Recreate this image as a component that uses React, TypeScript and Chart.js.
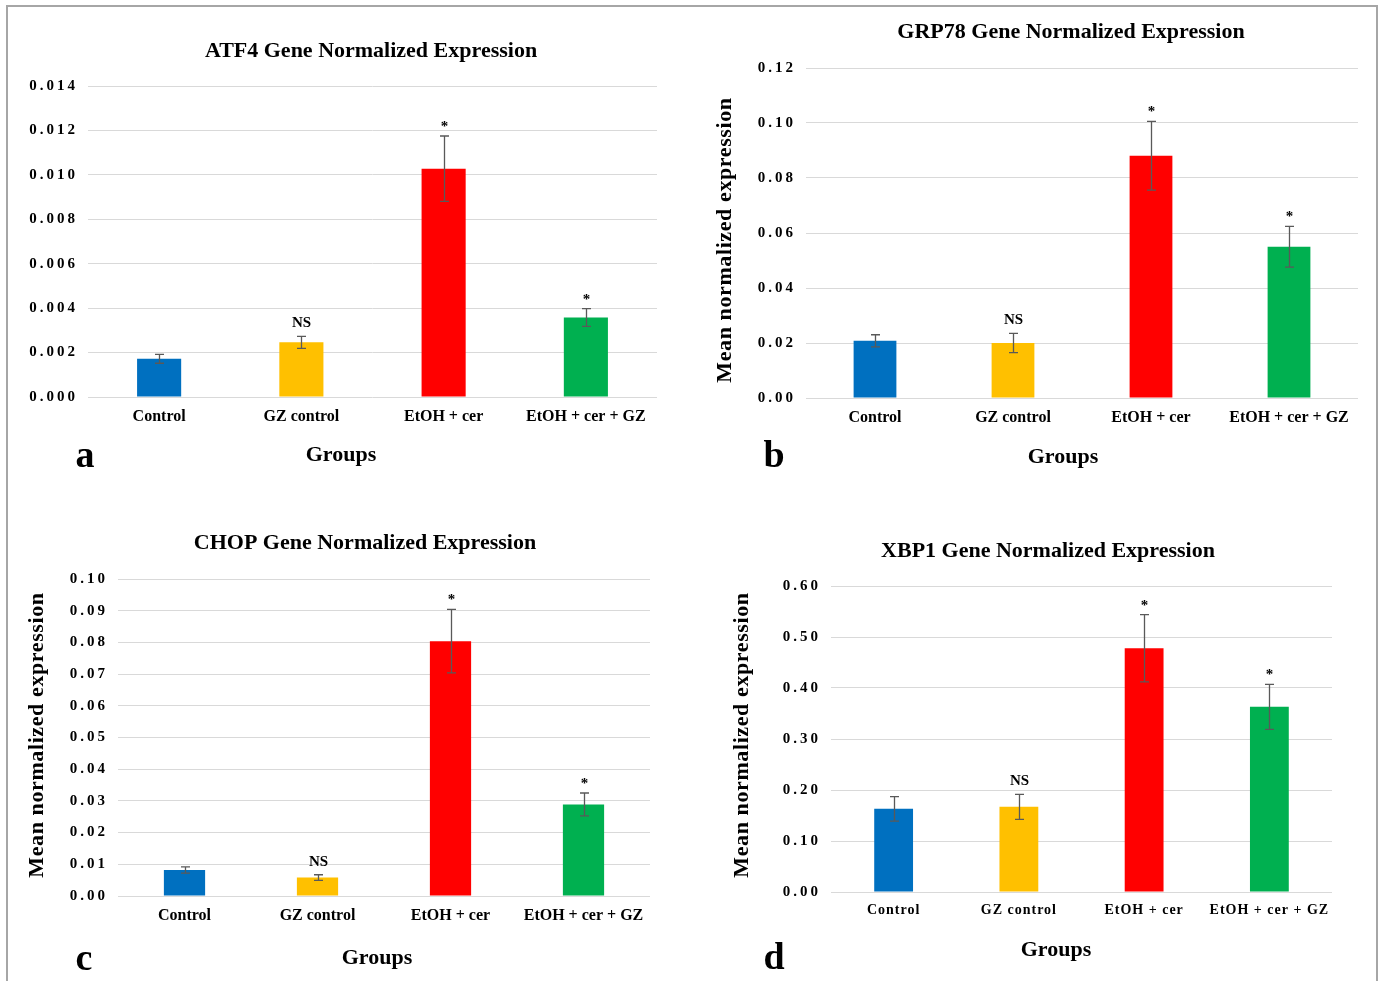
import { useEffect, useRef } from "react";
import { Chart, registerables } from "chart.js";

Chart.register(...registerables);

// ---------- data ----------
const categories = ["Control", "GZ control", "EtOH + cer", "EtOH + cer + GZ"];
const barColors = ["#0070C0", "#FFC000", "#FF0000", "#00B050"];
const significance = ["", "NS", "*", "*"];

const atf4Values = [0.00172, 0.00246, 0.01028, 0.00358];
const atf4Errors = [0.0002, 0.00027, 0.00147, 0.0004];
const atf4Ticks = ["0.000", "0.002", "0.004", "0.006", "0.008", "0.010", "0.012", "0.014"];

const grp78Values = [0.0208, 0.02, 0.0881, 0.055];
const grp78Errors = [0.0022, 0.0035, 0.0125, 0.0074];
const grp78Ticks = ["0.00", "0.02", "0.04", "0.06", "0.08", "0.10", "0.12"];

const chopValues = [0.0082, 0.0058, 0.0804, 0.0289];
const chopErrors = [0.001, 0.0009, 0.01, 0.0036];
const chopTicks = ["0.00", "0.01", "0.02", "0.03", "0.04", "0.05", "0.06", "0.07", "0.08", "0.09", "0.10"];

const xbp1Values = [0.163, 0.167, 0.478, 0.363];
const xbp1Errors = [0.024, 0.0245, 0.066, 0.044];
const xbp1Ticks = ["0.00", "0.10", "0.20", "0.30", "0.40", "0.50", "0.60"];

const yAxisTitle = "Mean normalized expression";
const xAxisTitle = "Groups";

// ---------- layout ----------
type Box = { x: number; y: number; w: number; h: number };
type Pt = { x: number; y: number };
type PanelCfg = {
  title: string;
  letter: string;
  values: number[];
  errors: number[];
  ticks: string[];
  canvas: Box;
  plot: { l: number; r: number; t: number; b: number };
  titlePos: Pt;
  groupsPos: Pt;
  letterPos: Pt;
  yTitlePos: Pt | null;
  catFont: number;
  catSpacing: number;
};

const panels: PanelCfg[] = [
  {
    title: "ATF4 Gene Normalized Expression",
    letter: "a",
    values: atf4Values,
    errors: atf4Errors,
    ticks: atf4Ticks,
    canvas: { x: 9, y: 8, w: 678, h: 482 },
    plot: { l: 88, r: 657, t: 86, b: 397 },
    titlePos: { x: 371, y: 51 },
    groupsPos: { x: 341, y: 455 },
    letterPos: { x: 85, y: 457 },
    yTitlePos: null,
    catFont: 16,
    catSpacing: 0,
  },
  {
    title: "GRP78 Gene Normalized Expression",
    letter: "b",
    values: grp78Values,
    errors: grp78Errors,
    ticks: grp78Ticks,
    canvas: { x: 692, y: 8, w: 684, h: 482 },
    plot: { l: 806, r: 1358, t: 68, b: 398 },
    titlePos: { x: 1071, y: 32 },
    groupsPos: { x: 1063, y: 457 },
    letterPos: { x: 774, y: 457 },
    yTitlePos: { x: 725, y: 240 },
    catFont: 16,
    catSpacing: 0,
  },
  {
    title: "CHOP Gene Normalized Expression",
    letter: "c",
    values: chopValues,
    errors: chopErrors,
    ticks: chopTicks,
    canvas: { x: 9, y: 492, w: 678, h: 488 },
    plot: { l: 118, r: 650, t: 579, b: 896 },
    titlePos: { x: 365, y: 543 },
    groupsPos: { x: 377, y: 958 },
    letterPos: { x: 84, y: 960 },
    yTitlePos: { x: 37, y: 735 },
    catFont: 16,
    catSpacing: 0,
  },
  {
    title: "XBP1 Gene Normalized Expression",
    letter: "d",
    values: xbp1Values,
    errors: xbp1Errors,
    ticks: xbp1Ticks,
    canvas: { x: 692, y: 492, w: 684, h: 488 },
    plot: { l: 831, r: 1332, t: 586, b: 892 },
    titlePos: { x: 1048, y: 551 },
    groupsPos: { x: 1056, y: 950 },
    letterPos: { x: 774, y: 959 },
    yTitlePos: { x: 742, y: 735 },
    catFont: 14,
    catSpacing: 1,
  },
];

const FONT = "'Liberation Serif', 'Times New Roman', serif";

function makePlugin(cfg: PanelCfg) {
  return {
    id: "panelExtras",
    beforeDraw(chart: any) {
      const patch = (scale: any, spacing: number) => {
        if (!scale || scale.__lsPatched) return;
        const orig = scale.drawLabels.bind(scale);
        scale.drawLabels = (area: any) => {
          const c = chart.ctx as any;
          c.save();
          c.letterSpacing = spacing + "px";
          orig(area);
          c.restore();
        };
        scale.__lsPatched = true;
      };
      patch(chart.scales.y, 3);
      patch(chart.scales.x, cfg.catSpacing);
    },
    afterDatasetsDraw(chart: any) {
      const ctx = chart.ctx as CanvasRenderingContext2D;
      const meta = chart.getDatasetMeta(0);
      const ys = chart.scales.y;
      ctx.save();
      cfg.values.forEach((v, i) => {
        const bar = meta.data[i];
        const x = Math.round(bar.x) + 0.5;
        const e = cfg.errors[i];
        const top = ys.getPixelForValue(v + e);
        const bot = ys.getPixelForValue(v - e);
        ctx.strokeStyle = "#595959";
        ctx.lineWidth = 1.3;
        ctx.beginPath();
        ctx.moveTo(x, top);
        ctx.lineTo(x, bot);
        ctx.moveTo(x - 4.5, top);
        ctx.lineTo(x + 4.5, top);
        ctx.moveTo(x - 4.5, bot);
        ctx.lineTo(x + 4.5, bot);
        ctx.stroke();
        const mark = significance[i];
        if (mark) {
          ctx.fillStyle = "#000";
          ctx.font = `bold 15px ${FONT}`;
          ctx.textAlign = "center";
          ctx.textBaseline = "alphabetic";
          ctx.fillText(mark, x, top - (mark === "*" ? 5 : 9));
        }
      });
      ctx.restore();
    },
    afterDraw(chart: any) {
      const ctx = chart.ctx as CanvasRenderingContext2D;
      const ox = cfg.canvas.x;
      const oy = cfg.canvas.y;
      ctx.save();
      ctx.fillStyle = "#000";
      ctx.textAlign = "center";
      ctx.textBaseline = "middle";
      ctx.font = `bold 22px ${FONT}`;
      ctx.fillText(cfg.title, cfg.titlePos.x - ox, cfg.titlePos.y - oy);
      ctx.fillText(xAxisTitle, cfg.groupsPos.x - ox, cfg.groupsPos.y - oy);
      ctx.font = `bold 38px ${FONT}`;
      ctx.fillText(cfg.letter, cfg.letterPos.x - ox, cfg.letterPos.y - oy);
      if (cfg.yTitlePos) {
        ctx.save();
        ctx.translate(cfg.yTitlePos.x - ox, cfg.yTitlePos.y - oy);
        ctx.rotate(-Math.PI / 2);
        ctx.font = `bold 22px ${FONT}`;
        (ctx as any).letterSpacing = "0.6px";
        ctx.fillText(yAxisTitle, 0, 0);
        ctx.restore();
      }
      ctx.restore();
    },
  };
}

function Panel({ cfg }: { cfg: PanelCfg }) {
  const ref = useRef<HTMLCanvasElement>(null);
  useEffect(() => {
    const canvas = ref.current;
    if (!canvas) return;
    const cv = cfg.canvas;
    const plot = cfg.plot;
    const yW = plot.l - cv.x;
    const xH = 40;
    const padTop = plot.t - cv.y;
    const padRight = cv.x + cv.w - plot.r;
    const padBottom = cv.y + cv.h - plot.b - xH;
    const tickValues = cfg.ticks.map((t) => parseFloat(t));
    const zeroPad = (s: any) => {
      s.paddingLeft = 0;
      s.paddingRight = 0;
      s.paddingTop = 0;
      s.paddingBottom = 0;
    };
    const chart = new Chart(canvas, {
      type: "bar",
      data: {
        labels: categories,
        datasets: [
          {
            data: cfg.values,
            backgroundColor: barColors,
            borderWidth: 0,
            barPercentage: 0.31,
            categoryPercentage: 1,
          },
        ],
      },
      options: {
        responsive: false,
        animation: false,
        devicePixelRatio: 1,
        layout: { padding: { left: 0, top: padTop, right: padRight, bottom: padBottom } },
        plugins: {
          legend: { display: false },
          tooltip: { enabled: false },
          title: { display: false },
        },
        scales: {
          x: {
            grid: { display: false, drawTicks: false },
            border: { display: false },
            ticks: {
              padding: 10,
              color: "#000",
              maxRotation: 0,
              autoSkip: false,
              font: { family: FONT, size: cfg.catFont, weight: "bold" },
            },
            afterFit: (s: any) => {
              s.height = xH;
              zeroPad(s);
            },
          },
          y: {
            min: 0,
            max: tickValues[tickValues.length - 1],
            grid: { color: "#d9d9d9", lineWidth: 1, drawTicks: false },
            border: { display: false },
            ticks: {
              padding: 10,
              color: "#000",
              font: { family: FONT, size: 15, weight: "bold" },
              callback: (_v: any, i: number) => cfg.ticks[i],
            },
            afterBuildTicks: (s: any) => {
              s.ticks = tickValues.map((v) => ({ value: v }));
            },
            afterFit: (s: any) => {
              s.width = yW;
              zeroPad(s);
            },
          },
        },
      } as any,
      plugins: [makePlugin(cfg)],
    });
    return () => chart.destroy();
  }, [cfg]);
  return (
    <canvas
      ref={ref}
      width={cfg.canvas.w}
      height={cfg.canvas.h}
      style={{ position: "absolute", left: cfg.canvas.x, top: cfg.canvas.y }}
    />
  );
}

export default function App() {
  return (
    <div style={{ position: "absolute", left: 0, top: 0, width: 1380, height: 981, overflow: "hidden", background: "#fff" }}>
      <div
        style={{
          position: "absolute",
          left: 6,
          top: 5,
          width: 1368,
          height: 1000,
          borderTop: "2px solid #a6a6a6",
          borderLeft: "2px solid #a6a6a6",
          borderRight: "2px solid #a6a6a6",
        }}
      />
      {panels.map((p) => (
        <Panel key={p.letter} cfg={p} />
      ))}
    </div>
  );
}
